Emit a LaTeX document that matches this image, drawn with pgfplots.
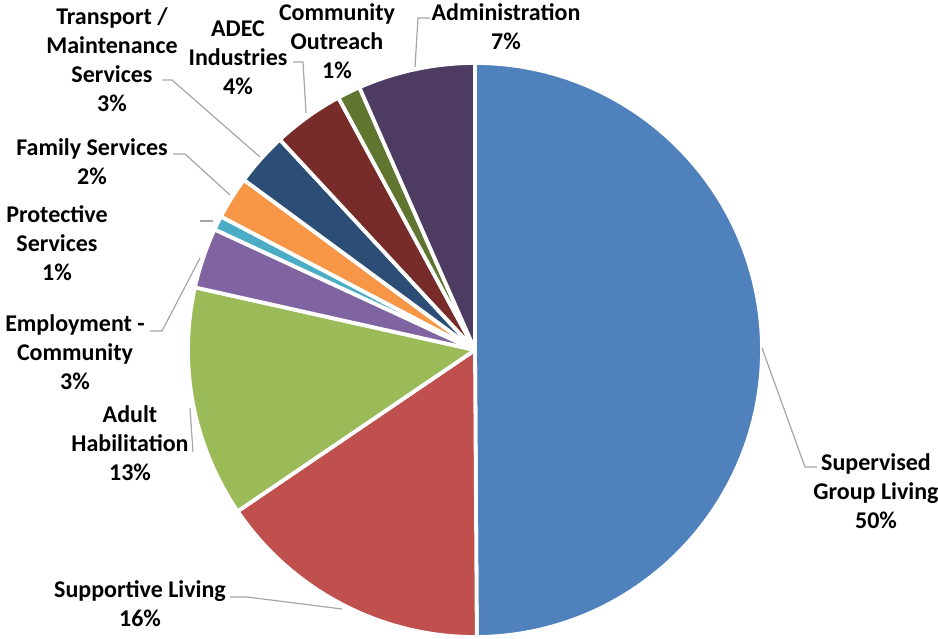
\documentclass[border=0pt]{standalone}
\usepackage{pgfplots}
\pgfplotsset{compat=1.18}
\usepackage{pgfplotstable}
\usepackage{fontspec}
\setmainfont{Carlito}
\definecolor{c0}{HTML}{4F81BD}
\definecolor{c1}{HTML}{C0504D}
\definecolor{c2}{HTML}{9BBB59}
\definecolor{c3}{HTML}{8064A2}
\definecolor{c4}{HTML}{4BACC6}
\definecolor{c5}{HTML}{F79646}
\definecolor{c6}{HTML}{2C4D75}
\definecolor{c7}{HTML}{772C2A}
\definecolor{c8}{HTML}{5F7530}
\definecolor{c9}{HTML}{4D3B62}
\definecolor{leader}{HTML}{A6A6A6}
\pgfplotstableread[col sep=comma]{
name,pct
Supervised Group Living,49.9
Supportive Living,15.6
Adult Habilitation,13.0
Employment - Community,3.4
Protective Services,0.8
Family Services,2.4
Transport / Maintenance Services,3.0
ADEC Industries,4.0
Community Outreach,1.3
Administration,6.6
}\piedata
\begin{document}
\begin{tikzpicture}
% cumulative angles (clockwise from 12 o'clock)
\xdef\cumang{90}
\pgfplotsforeachungrouped \i in {0,...,9}{%
  \pgfplotstablegetelem{\i}{pct}\of\piedata
  \pgfmathsetmacro\endang{\cumang-3.6*\pgfplotsretval}%
  \expandafter\xdef\csname sa\i\endcsname{\cumang}%
  \expandafter\xdef\csname ea\i\endcsname{\endang}%
  \xdef\cumang{\endang}%
}
\begin{axis}[
  scale only axis, width=469pt, height=319pt,
  xmin=0, xmax=938, ymin=0, ymax=638,
  hide axis, clip=false,
]
\coordinate (ll) at (axis cs:0,0);
\coordinate (ur) at (axis cs:938,638);
\pgfplotsinvokeforeach{0,...,9}{%
  \filldraw[fill=c#1, draw=white, line width=1.9pt, line join=round]
    (axis cs:475,288) -- ++(\csname sa#1\endcsname:143.5pt)
    arc[start angle=\csname sa#1\endcsname, end angle=\csname ea#1\endcsname, radius=143.5pt] -- cycle;
}
% leader lines
\begin{scope}[draw=leader, line width=0.6pt]
\draw (axis cs:430,620) -- (axis cs:418,620) -- (axis cs:415,571);
\draw (axis cs:293,576) -- (axis cs:303,576) -- (axis cs:306,525);
\draw (axis cs:162,558) -- (axis cs:172,558) -- (axis cs:260,481);
\draw (axis cs:173,484) -- (axis cs:185,484) -- (axis cs:230,443);
\draw (axis cs:200,417) -- (axis cs:213,417);
\draw (axis cs:150,307) -- (axis cs:162,307) -- (axis cs:200,380);
\draw (axis cs:193,186) -- (axis cs:190,230);
\draw (axis cs:230,41) -- (axis cs:247,41) -- (axis cs:342,29);
\draw (axis cs:817,171) -- (axis cs:805,171) -- (axis cs:762,290);
\end{scope}
% labels
\begin{scope}[every node/.style={align=center, font=\bfseries\fontsize{12}{14.5}\selectfont, inner sep=0pt}]
\node at (axis cs:506,611.5) {Administration\\7\%};
\node at (axis cs:337,596.5) {Community\\Outreach\\1\%};
\node at (axis cs:238,580) {ADEC\\Industries\\4\%};
\node at (axis cs:112,578) {Transport /\\Maintenance\\Services\\3\%};
\node at (axis cs:92,476.5) {Family Services\\2\%};
\node at (axis cs:57,394.5) {Protective\\Services\\1\%};
\node at (axis cs:75,286) {Employment -\\Community\\3\%};
\node at (axis cs:130,195) {Adult\\Habilitation\\13\%};
\node at (axis cs:140,34) {Supportive Living\\16\%};
\node at (axis cs:876,147) {Supervised\\Group Living\\50\%};
\end{scope}
\end{axis}
\pgfresetboundingbox
\path (ll) rectangle (ur);
\end{tikzpicture}
\end{document}
